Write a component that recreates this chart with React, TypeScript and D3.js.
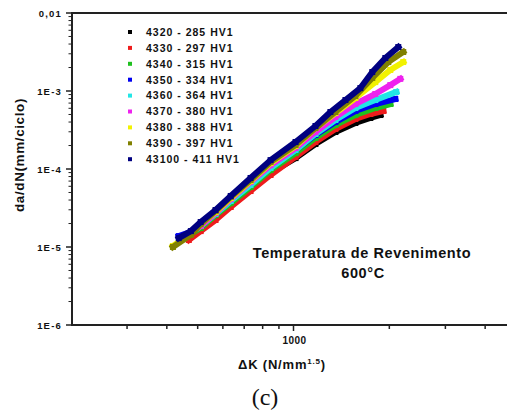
import React from "react";
import * as d3 from "d3";

type Pt = [number, number];

const seriesLabels = [
  "4320 - 285 HV1",
  "4330 - 297 HV1",
  "4340 - 315 HV1",
  "4350 - 334 HV1",
  "4360 - 364 HV1",
  "4370 - 380 HV1",
  "4380 - 388 HV1",
  "4390 - 397 HV1",
  "43100 - 411 HV1",
];
const seriesColors = ["#000000", "#ee1c1c", "#1fc01f", "#0000f0", "#22e6e6", "#ee22ee", "#f2f200", "#808000", "#000080"];

const s4320: Pt[] = [[459, 1.38e-5], [511, 1.75e-5], [569, 2.43e-5], [635, 3.56e-5], [733, 5.54e-5], [847, 8.89e-5], [1015, 1.38e-4], [1172, 2.09e-4], [1354, 2.98e-4], [1564, 3.89e-4], [1743, 4.51e-4], [1874, 4.92e-4]];
const s4330: Pt[] = [[469, 1.23e-5], [511, 1.6e-5], [569, 2.22e-5], [635, 3.26e-5], [733, 5.22e-5], [847, 8.38e-5], [1015, 1.43e-4], [1172, 2.22e-4], [1354, 3.26e-4], [1564, 4.38e-4], [1743, 5.07e-4], [1915, 5.54e-4]];
const s4340: Pt[] = [[442, 1.23e-5], [511, 1.75e-5], [569, 2.57e-5], [635, 3.66e-5], [733, 5.88e-5], [847, 9.7e-5], [1015, 1.6e-4], [1172, 2.5e-4], [1354, 3.66e-4], [1564, 4.92e-4], [1807, 6.05e-4], [2014, 6.81e-4]];
const s4350: Pt[] = [[436, 1.38e-5], [476, 1.56e-5], [511, 1.92e-5], [569, 2.81e-5], [635, 4.0e-5], [733, 6.43e-5], [847, 1.06e-4], [1015, 1.75e-4], [1172, 2.73e-4], [1354, 4.0e-4], [1564, 5.54e-4], [1807, 6.81e-4], [2088, 7.89e-4]];
const s4360: Pt[] = [[449, 1.3e-5], [511, 1.86e-5], [569, 2.65e-5], [635, 3.89e-5], [733, 6.24e-5], [847, 1.03e-4], [1015, 1.75e-4], [1172, 2.81e-4], [1354, 4.25e-4], [1564, 6.05e-4], [1807, 7.66e-4], [2103, 9.71e-4]];
const s4370: Pt[] = [[442, 1.23e-5], [511, 1.86e-5], [569, 2.73e-5], [635, 4.12e-5], [733, 6.81e-5], [847, 1.12e-4], [1015, 1.86e-4], [1172, 2.98e-4], [1354, 4.64e-4], [1564, 6.81e-4], [1807, 9.15e-4], [2014, 1.19e-3], [2165, 1.43e-3]];
const s4380: Pt[] = [[418, 1.03e-5], [476, 1.47e-5], [511, 1.97e-5], [569, 2.81e-5], [635, 4.25e-5], [733, 7.02e-5], [847, 1.19e-4], [1015, 1.97e-4], [1172, 3.35e-4], [1354, 5.22e-4], [1564, 8.13e-4], [1807, 1.3e-3], [2014, 1.86e-3], [2212, 2.35e-3]];
const s4390: Pt[] = [[418, 1.0e-5], [476, 1.43e-5], [511, 1.97e-5], [569, 2.9e-5], [635, 4.38e-5], [733, 7.23e-5], [847, 1.23e-4], [1015, 2.03e-4], [1172, 3.35e-4], [1354, 5.38e-4], [1564, 8.63e-4], [1768, 1.47e-3], [1985, 2.35e-3], [2212, 3.16e-3]];
const s43100: Pt[] = [[436, 1.3e-5], [476, 1.6e-5], [511, 2.09e-5], [569, 2.98e-5], [635, 4.51e-5], [733, 7.67e-5], [847, 1.3e-4], [1015, 2.22e-4], [1172, 3.56e-4], [1306, 5.38e-4], [1456, 7.66e-4], [1622, 1.09e-3], [1768, 1.75e-3], [1943, 2.65e-3], [2134, 3.66e-3]];

const seriesData = [s4320, s4330, s4340, s4350, s4360, s4370, s4380, s4390, s43100];

const yTickValues = [1e-6, 1e-5, 1e-4, 1e-3, 1e-2];
const yTickLabels = ["1E-6", "1E-5", "1E-4", "1E-3", "0,01"];
const xLabeledTicks = [1000];
const xTickLabels = ["1000"];
const xOtherTicks = [300, 400, 500, 600, 700, 800, 900, 2000, 3000, 4000];

const SANS = "'Liberation Sans', Arial, Helvetica, sans-serif";

export default function App() {
  const W = 507;
  const H = 412;
  const left = 72;
  const top = 13;
  const bottom = 325;
  const x = d3.scaleLog().domain([200, 5000]).range([71, 516]);
  const y = d3.scaleLog().domain([1e-6, 1e-2]).range([bottom, top]);
  const line = d3
    .line<Pt>()
    .x((d) => x(d[0]))
    .y((d) => y(d[1]));

  const yMinor = y.ticks().filter((v) => !yTickValues.some((t) => Math.abs(t - v) / t < 1e-6));

  return (
    <svg
      width={W}
      height={H}
      viewBox={`0 0 ${W} ${H}`}
      style={{ position: "absolute", left: 0, top: 0, background: "#fff" }}
    >
      <rect x={0} y={0} width={W} height={H} fill="#fff" />
      {/* data */}
      <g>
        {seriesData.map((s, i) => (
          <g key={i}>
            <path
              d={line(s) || ""}
              fill="none"
              stroke={seriesColors[i]}
              strokeWidth={6}
              strokeLinejoin="round"
              strokeLinecap="square"
            />
            {s.map((d, j) => (
              <rect
                key={j}
                x={x(d[0]) - 3}
                y={y(d[1]) - 3}
                width={6}
                height={6}
                fill={seriesColors[i]}
              />
            ))}
          </g>
        ))}
      </g>
      {/* axes */}
      <line x1={left} y1={top} x2={W} y2={top} stroke="#222" strokeWidth={2} />
      <line x1={left} y1={bottom} x2={W} y2={bottom} stroke="#222" strokeWidth={2} />
      <line x1={left} y1={top - 1} x2={left} y2={bottom + 1} stroke="#222" strokeWidth={2} />
      {yTickValues.map((v, i) => (
        <g key={"yt" + i}>
          <line x1={left - 6} x2={left} y1={y(v)} y2={y(v)} stroke="#222" strokeWidth={1.5} />
          <text
            x={left - 10}
            y={y(v) + 3.5}
            textAnchor="end"
            fontFamily={SANS}
            fontWeight="bold"
            fontSize={9.5}
            letterSpacing={1.2}
            fill="#111"
          >
            {yTickLabels[i]}
          </text>
        </g>
      ))}
      {yMinor.map((v, i) => (
        <line key={"ym" + i} x1={left - 3.5} x2={left} y1={y(v)} y2={y(v)} stroke="#222" strokeWidth={1} />
      ))}
      {xOtherTicks.map((v, i) => (
        <line key={"xo" + i} x1={x(v)} x2={x(v)} y1={bottom} y2={bottom + 4} stroke="#222" strokeWidth={1.5} />
      ))}
      {xLabeledTicks.map((v, i) => (
        <g key={"xl" + i}>
          <line x1={x(v)} x2={x(v)} y1={bottom} y2={bottom + 6} stroke="#222" strokeWidth={1.5} />
          <text
            x={x(v) + 1}
            y={bottom + 19}
            textAnchor="middle"
            fontFamily={SANS}
            fontWeight="bold"
            fontSize={10}
            letterSpacing={0.5}
            fill="#111"
          >
            {xTickLabels[i]}
          </text>
        </g>
      ))}
      {/* axis titles */}
      <text
        transform="translate(24,155) rotate(-90)"
        textAnchor="middle"
        fontFamily={SANS}
        fontWeight="bold"
        fontSize={13.5}
        letterSpacing={0.6}
        fill="#111"
      >
        da/dN(mm/ciclo)
      </text>
      <text x={282} y={369} textAnchor="middle" fontFamily={SANS} fontWeight="bold" fontSize={13} letterSpacing={0.8} fill="#111">
        ΔK (N/mm<tspan fontSize={8} dy={-5}>1.5</tspan>
        <tspan dy={5}>)</tspan>
      </text>
      <text x={265} y={405} textAnchor="middle" fontFamily="'Liberation Serif', 'Times New Roman', serif" fontSize={24} fill="#111">
        (c)
      </text>
      {/* annotation */}
      <text x={362} y={258} textAnchor="middle" fontFamily={SANS} fontWeight="bold" fontSize={14.5} letterSpacing={0.6} fill="#111">
        Temperatura de Revenimento
      </text>
      <text x={363} y={278} textAnchor="middle" fontFamily={SANS} fontWeight="bold" fontSize={14.5} letterSpacing={0.6} fill="#111">
        600°C
      </text>
      {/* legend */}
      {seriesLabels.map((lab, i) => {
        const cy = 32 + i * 15.9;
        return (
          <g key={"lg" + i}>
            <rect x={128} y={cy - 2} width={4} height={4} fill={seriesColors[i]} />
            <text
              x={146}
              y={cy + 3.8}
              fontFamily={SANS}
              fontWeight="bold"
              fontSize={10.5}
              letterSpacing={1}
              fill="#111"
              style={{ whiteSpace: "pre" }}
            >
              {lab}
            </text>
          </g>
        );
      })}
    </svg>
  );
}
